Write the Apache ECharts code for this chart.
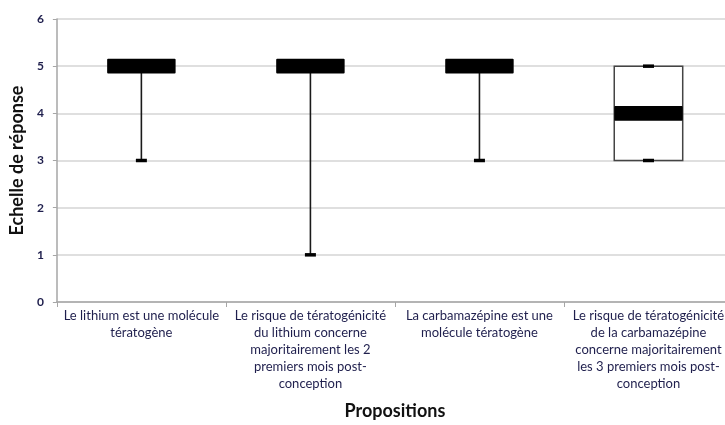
<!DOCTYPE html>
<html>
<head>
<meta charset="utf-8">
<script src="https://cdn.jsdelivr.net/npm/echarts@6/dist/echarts.min.js"></script>
<style>
html,body{margin:0;padding:0;background:#fff;overflow:hidden;width:725px;height:425px;}
#chart{width:733px;height:425px;}
</style>
</head>
<body>
<div id="chart"></div>
<script>
var categories = [
  "Le lithium est une molécule\ntératogène",
  "Le risque de tératogénicité\ndu lithium concerne\nmajoritairement les 2\npremiers mois post-\nconception",
  "La carbamazépine est une\nmolécule tératogène",
  "Le risque de tératogénicité\nde la carbamazépine\nconcerne majoritairement\nles 3 premiers mois post-\nconception"
];
var minValues    = [3, 1, 3, 3];
var q1Values     = [5, 5, 5, 3];
var medianValues = [5, 5, 5, 4];
var q3Values     = [5, 5, 5, 5];
var maxValues    = [5, 5, 5, 5];
var yTicks = [0, 1, 2, 3, 4, 5, 6];

var data = categories.map(function (c, i) {
  return [i, minValues[i], q1Values[i], medianValues[i], q3Values[i], maxValues[i]];
});

var chart = echarts.init(document.getElementById('chart'));
var fontFam = 'Lato, "Open Sans", sans-serif';

chart.setOption({
  animation: false,
  backgroundColor: '#ffffff',
  grid: { left: 55, right: 0, top: 19, bottom: 123, containLabel: false },
  xAxis: {
    type: 'category',
    data: categories,
    boundaryGap: true,
    name: 'Propositions',
    nameLocation: 'middle',
    nameGap: 100,
    nameTextStyle: { fontFamily: fontFam, fontWeight: 'bold', fontSize: 18, color: '#111111' },
    axisLine: { show: true, lineStyle: { color: '#a6a6a6', width: 1.5 } },
    axisTick: { show: true, alignWithLabel: false, length: 5, lineStyle: { color: '#a6a6a6' } },
    axisLabel: { interval: 0, margin: 5, fontFamily: fontFam, fontSize: 13, lineHeight: 17, color: '#1f1f4d', align: 'center' },
    splitLine: { show: false }
  },
  yAxis: {
    type: 'value',
    min: yTicks[0],
    max: yTicks[yTicks.length - 1],
    interval: 1,
    name: 'Echelle de réponse',
    nameLocation: 'middle',
    nameGap: 27,
    nameRotate: 90,
    nameTextStyle: { fontFamily: fontFam, fontWeight: 'bold', fontSize: 18, color: '#111111' },
    axisLine: { show: true, lineStyle: { color: '#a6a6a6', width: 1.5 } },
    axisTick: { show: true, length: 4, lineStyle: { color: '#a6a6a6' } },
    axisLabel: { margin: 13, fontFamily: fontFam, fontSize: 12, fontWeight: 'bold', color: '#1f1f4d' },
    splitLine: { show: true, lineStyle: { color: '#d4d4d4', width: 1.5 } }
  },
  series: [{
    type: 'custom',
    data: data,
    encode: { x: 0, y: [1, 2, 3, 4, 5] },
    renderItem: function (params, api) {
      var idx = api.value(0);
      var pMin = api.coord([idx, api.value(1)]);
      var pQ1 = api.coord([idx, api.value(2)]);
      var pMed = api.coord([idx, api.value(3)]);
      var pQ3 = api.coord([idx, api.value(4)]);
      var pMax = api.coord([idx, api.value(5)]);
      var bandW = api.size([1, 0])[0];
      var unitH = api.size([0, 1])[1];
      var bw = bandW * 0.405;
      var cx = pMed[0];
      var medH = unitH * 0.31;
      var capW = 11, capH = 3.5;
      var children = [];
      children.push({ type: 'line', shape: { x1: cx, y1: pMin[1], x2: cx, y2: pQ1[1] }, style: { stroke: '#1a1a1a', lineWidth: 1.6 } });
      children.push({ type: 'line', shape: { x1: cx, y1: pQ3[1], x2: cx, y2: pMax[1] }, style: { stroke: '#1a1a1a', lineWidth: 1.6 } });
      if (pQ1[1] - pQ3[1] > 1) {
        children.push({ type: 'rect', shape: { x: cx - bw / 2, y: pQ3[1], width: bw, height: pQ1[1] - pQ3[1] }, style: { fill: '#ffffff', stroke: '#444444', lineWidth: 1.5 } });
      }
      children.push({ type: 'rect', shape: { x: cx - capW / 2, y: pMin[1] - capH / 2, width: capW, height: capH }, style: { fill: '#000000' } });
      children.push({ type: 'rect', shape: { x: cx - capW / 2, y: pMax[1] - capH / 2, width: capW, height: capH }, style: { fill: '#000000' } });
      children.push({ type: 'rect', shape: { x: cx - bw / 2, y: pMed[1] - medH / 2, width: bw, height: medH, r: 1 }, style: { fill: '#000000' } });
      return { type: 'group', children: children };
    }
  }]
});
</script>
</body>
</html>
